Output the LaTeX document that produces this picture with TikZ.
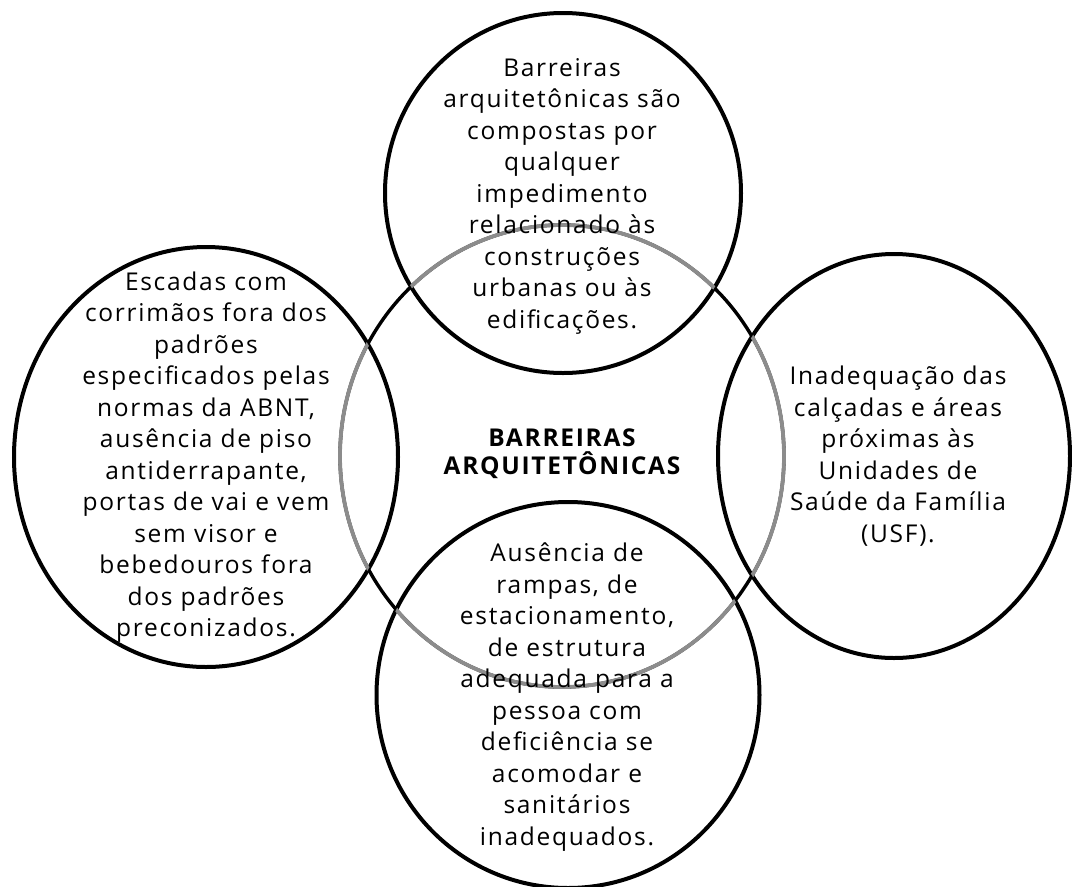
\documentclass[tikz,border=0pt]{standalone}
\usepackage{fontspec}
\setmainfont{Open Sans}[LetterSpace=7]
\usepackage{tikz}
\usetikzlibrary{shapes.geometric}

\tikzset{
	hubring/.style={shape=ellipse,draw,line width=3.4pt,inner sep=0pt},
	topicring/.style={shape=ellipse,draw,line width=4pt,inner sep=0pt},
	hubtext/.style={align=center,font=\bfseries\fontsize{24.5}{28}\selectfont},
	topictext/.style={align=center,font=\fontsize{24.5}{31.5}\selectfont},
	underlap/.style={draw=black!45,line width=3.8pt}
}

\begin{document}
\begin{tikzpicture}[x=1pt,y=-1pt]
	\useasboundingbox (0,0) rectangle (1072,887);
	\draw (562,456) node (hub) [hubring,minimum width=444pt,minimum height=462pt] {};
	\draw (563,193) node (top) [topicring,minimum width=356pt,minimum height=360pt] {};
	\draw (206,457) node (left) [topicring,minimum width=384pt,minimum height=420pt] {};
	\draw (894,456) node (right) [topicring,minimum width=352pt,minimum height=404pt] {};
	\draw (568,695) node (bottom) [topicring,minimum width=383pt,minimum height=386pt] {};
	\begin{scope}
		\clip (top.center) ellipse [x radius=178pt,y radius=180pt];
		\draw [underlap] (hub.center) ellipse [x radius=222pt,y radius=231pt];
	\end{scope}
	\begin{scope}
		\clip (left.center) ellipse [x radius=192pt,y radius=210pt];
		\draw [underlap] (hub.center) ellipse [x radius=222pt,y radius=231pt];
	\end{scope}
	\begin{scope}
		\clip (right.center) ellipse [x radius=176pt,y radius=202pt];
		\draw [underlap] (hub.center) ellipse [x radius=222pt,y radius=231pt];
	\end{scope}
	\begin{scope}
		\clip (bottom.center) ellipse [x radius=191.5pt,y radius=193pt];
		\draw [underlap] (hub.center) ellipse [x radius=222pt,y radius=231pt];
	\end{scope}
	\draw (562,454) node (hubLabel) [hubtext] {BARREIRAS\\ARQUITETÔNICAS};
	\draw (562,196) node (topLabel) [topictext] {Barreiras\\arquitetônicas são\\compostas por\\qualquer\\impedimento\\relacionado às\\construções\\urbanas ou às\\edificações.};
	\draw (206,457) node (leftLabel) [topictext] {Escadas com\\corrimãos fora dos\\padrões\\especificados pelas\\normas da ABNT,\\ausência de piso\\antiderrapante,\\portas de vai e vem\\sem visor e\\bebedouros fora\\dos padrões\\preconizados.};
	\draw (898,456) node (rightLabel) [topictext] {Inadequação das\\calçadas e áreas\\próximas às\\Unidades de\\Saúde da Família\\(USF).};
	\draw (567,697) node (bottomLabel) [topictext] {Ausência de\\rampas, de\\estacionamento,\\de estrutura\\adequada para a\\pessoa com\\deficiência se\\acomodar e\\sanitários\\inadequados.};
\end{tikzpicture}
\end{document}
